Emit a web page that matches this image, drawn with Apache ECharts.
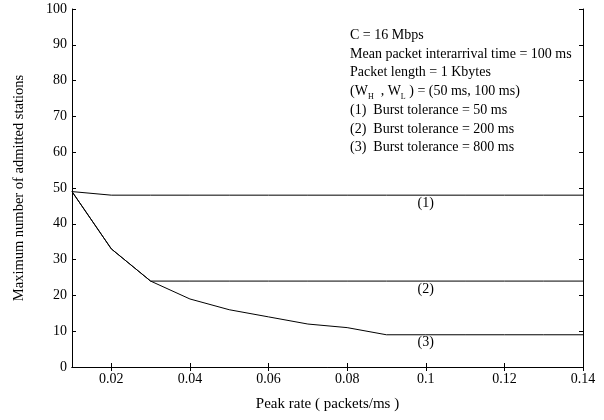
<!DOCTYPE html>
<html>
<head>
<meta charset="utf-8">
<script src="https://cdn.jsdelivr.net/npm/echarts@6/dist/echarts.min.js"></script>
<style>
  html, body { margin: 0; padding: 0; background: #fff; }
  #main { width: 604px; height: 420px; }
</style>
</head>
<body>
<div id="main"></div>
<script>
// peak rate (packets/ms)
var peakRate = [0.01, 0.02, 0.03, 0.04, 0.05, 0.06, 0.07, 0.08, 0.09, 0.1, 0.11, 0.12, 0.13, 0.14];
// max number of admitted stations
var burst50 = [49, 48, 48, 48, 48, 48, 48, 48, 48, 48, 48, 48, 48, 48];
var burst200 = [49, 33, 24, 24, 24, 24, 24, 24, 24, 24, 24, 24, 24, 24];
var burst800 = [49, 33, 24, 19, 16, 14, 12, 11, 9, 9, 9, 9, 9, 9];
var xTicks = [0.02, 0.04, 0.06, 0.08, 0.1, 0.12, 0.14];
var curveTags = ['(1)', '(2)', '(3)'];
var tagAt = 0.1;

var serif = 'Liberation Serif';

function lineSeries(name, ys, tag) {
  var i = peakRate.indexOf(tagAt);
  return {
    name: name,
    type: 'line',
    data: peakRate.map(function (x, k) { return [x, ys[k]]; }),
    symbol: 'none',
    lineStyle: { color: '#000', width: 1 },
    markPoint: {
      symbol: 'circle', symbolSize: 0,
      label: {
        show: true, formatter: tag, position: 'bottom', distance: 1,
        color: '#000', fontFamily: serif, fontSize: 14
      },
      data: [{ coord: [tagAt, ys[i]] }]
    },
    animation: false
  };
}

var chart = echarts.init(document.getElementById('main'));

var option = {
  backgroundColor: '#fff',
  animation: false,
  grid: { left: 72, right: 21, top: 9, bottom: 53 },
  xAxis: [
    {
      type: 'value', min: 0.01, max: 0.14,
      name: 'Peak rate ( packets/ms )', nameLocation: 'middle', nameGap: 30,
      nameTextStyle: { fontFamily: serif, fontSize: 15, color: '#000' },
      axisLine: { show: true, onZero: false, lineStyle: { color: '#000', width: 1 } },
      axisTick: { show: true, inside: true, length: 4, lineStyle: { color: '#000' }, customValues: xTicks },
      axisLabel: {
        fontFamily: serif, fontSize: 14, color: '#000', margin: 5,
        customValues: xTicks,
        formatter: function (v) { return String(+v.toFixed(2)); }
      },
      splitLine: { show: false }
    },
    {
      type: 'value', min: 0.01, max: 0.14, position: 'top',
      axisLine: { show: true, lineStyle: { color: '#000', width: 1 } },
      axisTick: { show: true, inside: true, length: 4, lineStyle: { color: '#000' }, customValues: xTicks },
      axisLabel: { show: false },
      splitLine: { show: false }
    }
  ],
  yAxis: [
    {
      type: 'value', min: 0, max: 100, interval: 10,
      name: 'Maximum number of admitted stations', nameLocation: 'middle', nameGap: 45,
      nameTextStyle: { fontFamily: serif, fontSize: 14.5, color: '#000' },
      axisLine: { show: true, lineStyle: { color: '#000', width: 1 } },
      axisTick: { show: true, inside: true, length: 4, lineStyle: { color: '#000' } },
      axisLabel: { fontFamily: serif, fontSize: 14, color: '#000', margin: 5 },
      splitLine: { show: false }
    },
    {
      type: 'value', min: 0, max: 100, interval: 10, position: 'right',
      axisLine: { show: true, lineStyle: { color: '#000', width: 1 } },
      axisTick: { show: true, inside: true, length: 4, lineStyle: { color: '#000' } },
      axisLabel: { show: false },
      splitLine: { show: false }
    }
  ],
  series: [
    lineSeries('Burst tolerance = 50 ms', burst50, curveTags[0]),
    lineSeries('Burst tolerance = 200 ms', burst200, curveTags[1]),
    lineSeries('Burst tolerance = 800 ms', burst800, curveTags[2])
  ],
  graphic: [
    {
      type: 'text', left: 350, top: 26,
      style: {
        text: [
          'C = 16 Mbps',
          'Mean packet interarrival time = 100 ms',
          'Packet length = 1 Kbytes',
          '(W{s|H}  , W{s|L} ) = (50 ms, 100 ms)',
          '(1)  Burst tolerance = 50 ms',
          '(2)  Burst tolerance = 200 ms',
          '(3)  Burst tolerance = 800 ms'
        ].join('\n'),
        fontFamily: serif, fontSize: 14, lineHeight: 18.7, fill: '#000',
        rich: {
          s: { fontFamily: serif, fontSize: 8, lineHeight: 18.7, verticalAlign: 'bottom', fill: '#000' }
        }
      }
    }
  ]
};

chart.setOption(option);
</script>
</body>
</html>
